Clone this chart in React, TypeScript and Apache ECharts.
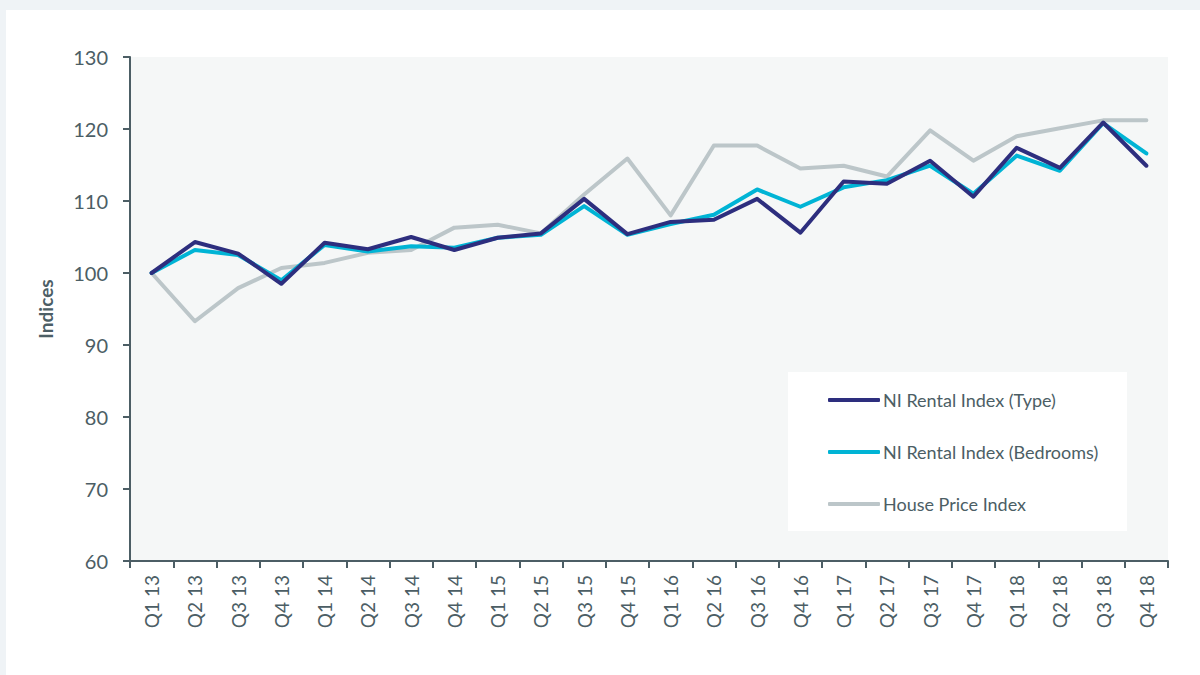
import React, { useEffect, useRef } from "react";
import * as echarts from "echarts";

const categories = [
  "Q1 13", "Q2 13", "Q3 13", "Q4 13",
  "Q1 14", "Q2 14", "Q3 14", "Q4 14",
  "Q1 15", "Q2 15", "Q3 15", "Q4 15",
  "Q1 16", "Q2 16", "Q3 16", "Q4 16",
  "Q1 17", "Q2 17", "Q3 17", "Q4 17",
  "Q1 18", "Q2 18", "Q3 18", "Q4 18",
];

const rentalType = [
  100, 104.3, 102.7, 98.5, 104.2, 103.3, 105.0, 103.2,
  104.9, 105.5, 110.3, 105.4, 107.1, 107.4, 110.3, 105.6,
  112.7, 112.4, 115.6, 110.6, 117.4, 114.6, 120.9, 114.9,
];

const rentalBedrooms = [
  100, 103.2, 102.5, 99.0, 103.9, 103.0, 103.7, 103.5,
  104.9, 105.3, 109.3, 105.3, 106.8, 108.1, 111.6, 109.2,
  111.9, 112.9, 114.9, 111.0, 116.3, 114.2, 120.8, 116.6,
];

const housePrice = [
  100, 93.3, 97.9, 100.7, 101.4, 102.8, 103.2, 106.3,
  106.7, 105.5, 110.9, 115.9, 108.0, 117.7, 117.7, 114.5,
  114.9, 113.4, 119.8, 115.6, 119.0, 120.1, 121.2, 121.2,
];

const seriesNames = ["NI Rental Index (Type)", "NI Rental Index (Bedrooms)", "House Price Index"];
const seriesColors = ["#2d2e7e", "#00b4d5", "#bcc6c9"];

const TEXT = "#4c5e65";
const FONT = "Lato, 'Open Sans', sans-serif";

export default function App() {
  const ref = useRef<HTMLDivElement>(null);
  useEffect(() => {
    document.body.style.margin = "0";
    if (!ref.current) return;
    const chart = echarts.init(ref.current, null, { renderer: "svg" });
    const datasets = [rentalType, rentalBedrooms, housePrice];
    chart.setOption({
      animation: false,
      backgroundColor: "#eff3f6",
      textStyle: { fontFamily: FONT, color: TEXT },
      graphic: [
        { type: "rect", z: -10, shape: { x: 6, y: 10, width: 1194, height: 665 }, style: { fill: "#ffffff" } },
        { type: "rect", z: 1, shape: { x: 788, y: 372, width: 339, height: 159 }, style: { fill: "#ffffff" } },
      ],
      grid: {
        left: 130,
        right: 32,
        top: 57,
        bottom: 114,
        show: true,
        backgroundColor: "#f5f7f7",
        borderWidth: 0,
        containLabel: false,
      },
      legend: {
        orient: "vertical",
        left: 828,
        top: 391,
        itemWidth: 52,
        itemHeight: 4,
        itemGap: 34,
        icon: "roundRect",
        padding: 0,
        data: seriesNames,
        textStyle: { fontFamily: FONT, color: TEXT, fontSize: 18, lineHeight: 18, padding: [0, 0, 0, -2] },
      },
      xAxis: {
        type: "category",
        data: categories,
        boundaryGap: true,
        axisLine: { show: true, lineStyle: { color: TEXT, width: 2 } },
        axisTick: { show: true, length: 7, lineStyle: { color: TEXT, width: 2 } },
        axisLabel: { rotate: 90, color: TEXT, fontSize: 19, margin: 14, interval: 0, fontFamily: FONT },
        splitLine: { show: false },
      },
      yAxis: {
        type: "value",
        min: 60,
        max: 130,
        interval: 10,
        name: "Indices",
        nameLocation: "middle",
        nameGap: 75,
        nameRotate: 90,
        nameTextStyle: { color: TEXT, fontSize: 19, fontWeight: "bold", fontFamily: FONT },
        axisLine: { show: true, lineStyle: { color: TEXT, width: 2 } },
        axisTick: { show: true, length: 7, lineStyle: { color: TEXT, width: 2 } },
        axisLabel: { color: TEXT, fontSize: 20, margin: 22, fontFamily: FONT },
        splitLine: { show: false },
      },
      series: datasets.map((d, i) => ({
        name: seriesNames[i],
        type: "line",
        data: d,
        showSymbol: false,
        symbol: "none",
        z: 3 - i + 2,
        color: seriesColors[i],
        lineStyle: { color: seriesColors[i], width: 4, cap: "round", join: "round" },
      })),
    });
    return () => chart.dispose();
  }, []);
  return <div ref={ref} style={{ width: 1200, height: 675 }} />;
}
